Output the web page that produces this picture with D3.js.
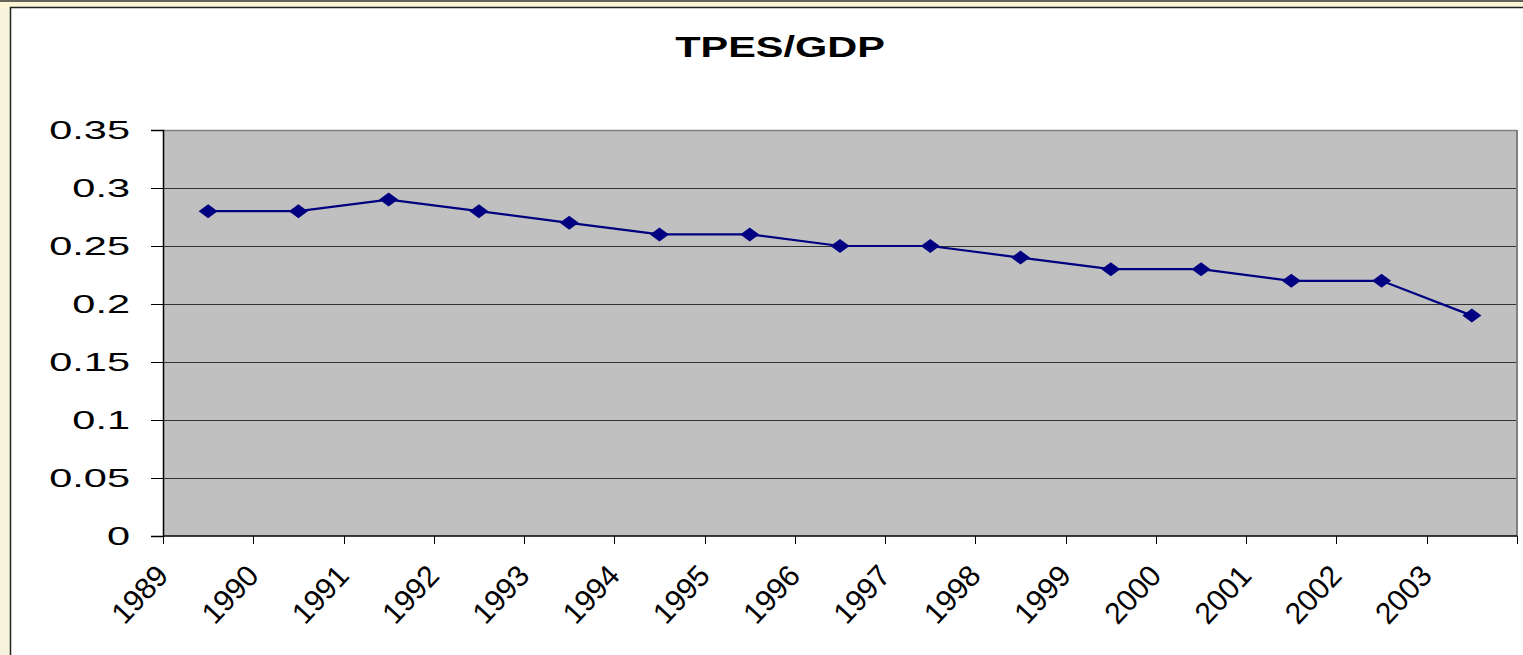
<!DOCTYPE html>
<html><head><meta charset="utf-8">
<script src="https://cdn.jsdelivr.net/npm/d3@7"></script>
<style>html,body{margin:0;padding:0;background:#fff;overflow:hidden}</style>
</head><body>
<svg id="c" width="1523" height="655"></svg>
<script>
const years = ["1989","1990","1991","1992","1993","1994","1995","1996","1997","1998","1999","2000","2001","2002","2003"];
const values = [0.28,0.28,0.29,0.28,0.27,0.26,0.26,0.25,0.25,0.24,0.23,0.23,0.22,0.22,0.19];
const yTicks = [0,0.05,0.1,0.15,0.2,0.25,0.3,0.35];
const title = "TPES/GDP";

const FONT = "Liberation Sans, Arial, sans-serif";
const svg = d3.select("#c");
const W = 1523, H = 655;
// outer frame
svg.append("rect").attr("x",0).attr("y",0).attr("width",W).attr("height",H).attr("fill","#F5F3DC");
svg.append("rect").attr("x",0).attr("y",0).attr("width",W).attr("height",8).attr("fill","#FBF5D6");
svg.append("line").attr("x1",0).attr("x2",W).attr("y1",1).attr("y2",1).attr("stroke","#333").attr("stroke-width",1.5);
svg.append("rect").attr("x",10.5).attr("y",7.5).attr("width",W).attr("height",H).attr("fill","#fff").attr("stroke","#222").attr("stroke-width",1.5);

const m = {l:163, r:1517, t:130, b:536};
const x = d3.scaleBand().domain(years).range([m.l, m.r]).padding(0);
const y = d3.scaleLinear().domain([0,0.35]).range([m.b, m.t]);

// plot area
svg.append("rect").attr("x",m.l).attr("y",m.t).attr("width",m.r-m.l).attr("height",m.b-m.t).attr("fill","#C0C0C0");
// gridlines
svg.append("g").selectAll("line").data(yTicks.filter(d=>d>0)).join("line")
  .attr("x1",m.l).attr("x2",m.r).attr("y1",d=>Math.round(y(d))+0.5).attr("y2",d=>Math.round(y(d))+0.5)
  .attr("stroke","#333").attr("stroke-width",1);
// top/right border gray
svg.append("line").attr("x1",m.l).attr("x2",m.r).attr("y1",m.t+0.5).attr("y2",m.t+0.5).attr("stroke","#808080").attr("stroke-width",1.5);
svg.append("line").attr("x1",m.r).attr("x2",m.r).attr("y1",m.t).attr("y2",m.b).attr("stroke","#808080").attr("stroke-width",2);

// y axis (ticks via d3 axis, stretched labels drawn separately)
const yAxis = d3.axisLeft(y).tickValues(yTicks).tickSize(12).tickFormat("");
const gy = svg.append("g").attr("transform",`translate(${m.l},0)`).call(yAxis);
gy.select(".domain").attr("stroke","#000").attr("stroke-width",1.5);
gy.selectAll(".tick line").attr("stroke","#000");
svg.append("g").selectAll("text").data(yTicks).join("text")
  .attr("transform",d=>`translate(130,${y(d)+9}) scale(1.66,1)`)
  .attr("text-anchor","end").attr("font-family",FONT).attr("font-size",25).attr("fill","#000")
  .text(d=>String(d));

// x axis: ticks at category boundaries, labels at left boundary
const bounds = years.map(d=>x(d)).concat([m.r]);
const gx = svg.append("g");
gx.append("line").attr("x1",m.l).attr("x2",m.r).attr("y1",m.b).attr("y2",m.b).attr("stroke","#000").attr("stroke-width",1.5);
gx.selectAll("line.t").data(bounds).join("line").attr("class","t")
  .attr("x1",d=>Math.round(d)+0.5).attr("x2",d=>Math.round(d)+0.5).attr("y1",m.b).attr("y2",m.b+8).attr("stroke","#000");
gx.selectAll("text").data(years).join("text")
  .attr("transform",d=>`translate(${x(d)+7},${m.b+41}) rotate(-47)`)
  .attr("text-anchor","end").attr("font-family",FONT).attr("font-size",30).attr("fill","#000")
  .text(d=>d);

// line
const cx = d=>x(d)+x.bandwidth()/2;
const line = d3.line().x((d,i)=>cx(years[i])).y(d=>y(d));
svg.append("path").datum(values).attr("d",line).attr("fill","none").attr("stroke","#000080").attr("stroke-width",2.2);
svg.append("g").selectAll("path").data(values).join("path")
  .attr("transform",(d,i)=>`translate(${cx(years[i])},${y(d)})`)
  .attr("d","M-9.5,0L0,-7L9.5,0L0,7Z").attr("fill","#000080");

// title
svg.append("text").attr("transform","translate(780,57) scale(1.43,1)").attr("text-anchor","middle")
  .attr("font-family",FONT).attr("font-weight","bold").attr("font-size",29).text(title);
</script>
</body></html>
